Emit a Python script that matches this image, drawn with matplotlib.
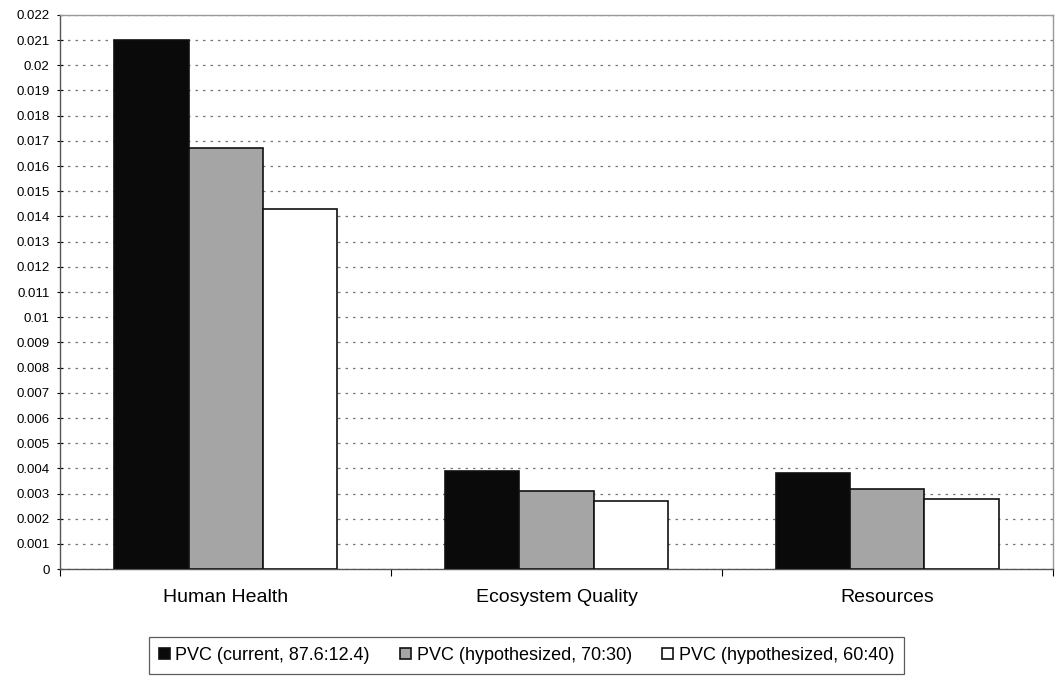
import matplotlib
matplotlib.use('Agg')
import matplotlib.pyplot as plt
import numpy as np

plt.rcParams['font.family'] = ['Liberation Sans', 'DejaVu Sans']

categories = ['Human Health', 'Ecosystem Quality', 'Resources']
series_names = ['PVC (current, 87.6:12.4)', 'PVC (hypothesized, 70:30)',
                'PVC (hypothesized, 60:40)']
current = [0.0210, 0.0039, 0.0038]
hyp_70 = [0.0167, 0.0031, 0.0032]
hyp_60 = [0.0143, 0.0027, 0.0028]
y_ticks = [0, 0.001, 0.002, 0.003, 0.004, 0.005, 0.006, 0.007, 0.008, 0.009, 0.01,
           0.011, 0.012, 0.013, 0.014, 0.015, 0.016, 0.017, 0.018, 0.019, 0.02,
           0.021, 0.022]
y_labels = ['0', '0.001', '0.002', '0.003', '0.004', '0.005', '0.006', '0.007',
            '0.008', '0.009', '0.01', '0.011', '0.012', '0.013', '0.014', '0.015',
            '0.016', '0.017', '0.018', '0.019', '0.02', '0.021', '0.022']

fig = plt.figure(figsize=(10.55, 6.76), dpi=100)
ax = fig.add_axes([0.057, 0.158, 0.941, 0.82])

x = np.arange(len(categories))
w = 0.224
colors = ['#0a0a0a', '#a5a5a5', '#ffffff']
for i, (vals, name, col) in enumerate(zip([current, hyp_70, hyp_60], series_names, colors)):
    ax.bar(x + (i - 1) * w, vals, width=w, color=col, edgecolor='#111111',
           linewidth=1.2, label=name, zorder=3)

ax.set_xlim(-0.5, 2.5)
ax.set_ylim(0, 0.022)
ax.set_yticks(y_ticks)
ax.set_yticklabels(y_labels, fontsize=9.5)
ax.yaxis.grid(True, linestyle=(0, (2, 4)), color='#777777', linewidth=0.9, zorder=0)
ax.tick_params(axis='y', direction='inout', length=5, width=0.8, pad=5)

ax.set_xticks([-0.5, 0.5, 1.5, 2.5])
ax.set_xticklabels([])
ax.set_xticks(x, minor=True)
ax.set_xticklabels(categories, minor=True, fontsize=14)
ax.tick_params(axis='x', which='major', direction='out', length=5, width=0.8)
ax.tick_params(axis='x', which='minor', length=0, pad=14)

for s in ['top', 'right']:
    ax.spines[s].set_color('#999999')
    ax.spines[s].set_linewidth(1.0)
for s in ['left', 'bottom']:
    ax.spines[s].set_color('#555555')
    ax.spines[s].set_linewidth(1.0)

leg = fig.legend(loc='upper center', bbox_to_anchor=(0.499, 1 - 637 / 676), ncol=3,
                 fontsize=13, frameon=True, fancybox=False, edgecolor='#333333',
                 handlelength=0.6, handleheight=0.6, handletextpad=0.3,
                 columnspacing=1.7, borderpad=0.55, borderaxespad=0)
leg.get_frame().set_linewidth(0.9)

plt.savefig('out.png', dpi=100)
plt.close()
